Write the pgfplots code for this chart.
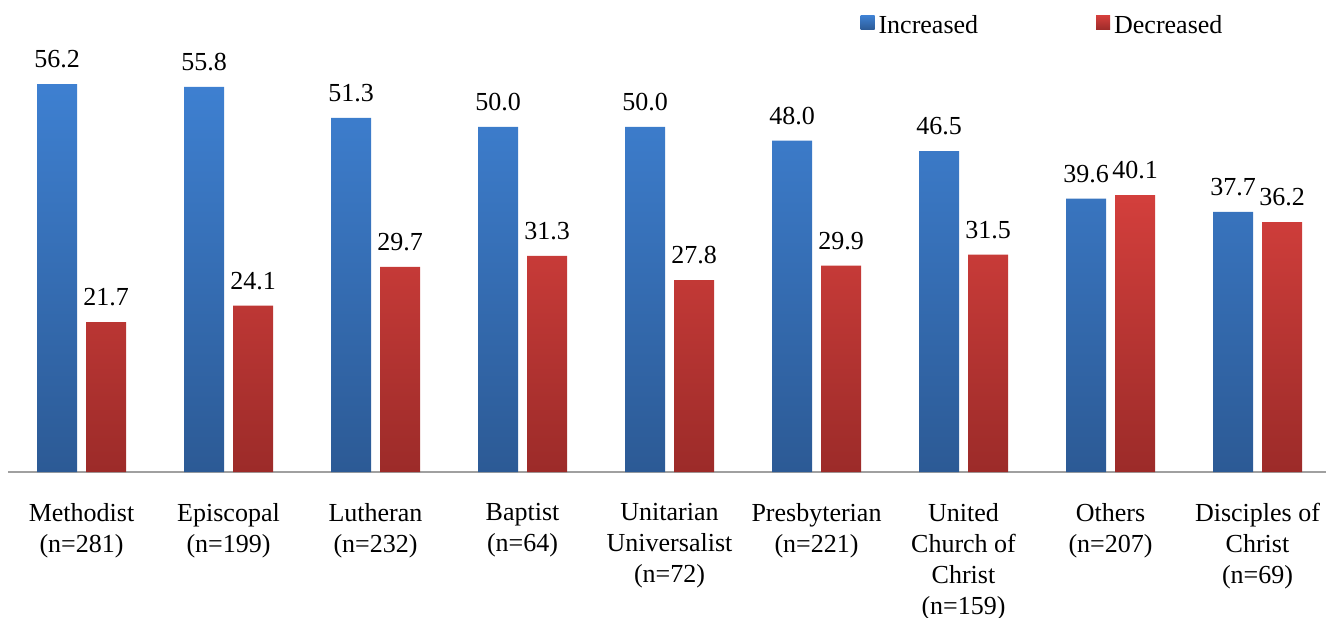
\documentclass[border=0pt]{standalone}
\usepackage{pgfplots}
\pgfplotsset{compat=1.18}
\usepackage{fontspec}
\setmainfont{Liberation Serif}

\definecolor{incTop}{HTML}{3E80D1}
\definecolor{incBot}{HTML}{2C5A95}
\definecolor{decTop}{HTML}{D33F3C}
\definecolor{decBot}{HTML}{9C2B29}
\definecolor{axisgray}{HTML}{A0A0A0}

\begin{document}
\begin{tikzpicture}
\begin{axis}[
    scale only axis,
    width=659pt,
    height=207.1pt,
    xmin=-0.5, xmax=8.466,
    ymin=0, ymax=60,
    ybar,
    bar width=20pt,
    hide y axis,
    axis x line*=bottom,
    x axis line style={-, draw=axisgray, line width=0.9pt},
    xtick=data,
    major tick length=0pt,
    xticklabels={Methodist\\(n=281), Episcopal\\(n=199), Lutheran\\(n=232),
                 Baptist\\(n=64), Unitarian\\Universalist\\(n=72),
                 Presbyterian\\(n=221), United\\Church of\\Christ\\(n=159),
                 Others\\(n=207), Disciples of\\Christ\\(n=69)},
    xticklabel style={align=center, font=\fontsize{13}{15.5}\selectfont, yshift=-12pt},
    /pgf/number format/assume math mode=true,
    nodes near coords={\pgfmathprintnumber[fixed,fixed zerofill,precision=1]{\pgfplotspointmeta}},
    every node near coord/.append style={font=\fontsize{13}{15}\selectfont, color=black, yshift=4.5pt},
    clip=false,
    legend columns=2,
    legend style={at={(0.642,1)}, anchor=south west, yshift=6.5pt, draw=none,
                  fill=none, font=\fontsize{13}{15}\selectfont,
                  /tikz/every even column/.append style={column sep=57pt}},
    legend image code/.code={\path[#1] (0pt,-2pt) rectangle (7pt,5pt);},
]
\addplot[draw=none, top color=incTop, bottom color=incBot, bar shift=-12.25pt] coordinates
    {(0,56.2) (1,55.8) (2,51.3) (3,50.0) (4,50.0) (5,48.0) (6,46.5) (7,39.6) (8,37.7)};
\addplot[draw=none, top color=decTop, bottom color=decBot, bar shift=12.25pt] coordinates
    {(0,21.7) (1,24.1) (2,29.7) (3,31.3) (4,27.8) (5,29.9) (6,31.5) (7,40.1) (8,36.2)};
\legend{Increased, Decreased}
\coordinate (o) at (axis cs:-0.5,0);
\end{axis}
\pgfresetboundingbox
\path[use as bounding box] ([xshift=-4pt,yshift=236pt]o) rectangle ([xshift=659pt,yshift=-72.5pt]o);
\end{tikzpicture}
\end{document}
